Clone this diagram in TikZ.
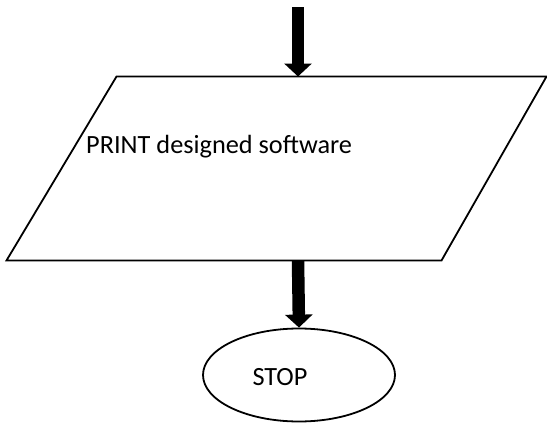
\documentclass[tikz,border=0pt]{standalone}
\usepackage{fontspec}
\setmainfont{Carlito}
\usetikzlibrary{arrows.meta,shapes.geometric}
\begin{document}
\begin{tikzpicture}[x=1pt,y=-1pt,
  shapeline/.style={line width=1.8pt, line join=miter},
  flow/.style={line width=12.5pt, -{Triangle[width=27pt,length=13pt]}},
  lbl/.style={font=\fontsize{26.3}{30}\selectfont, inner sep=0pt}]
\useasboundingbox (0,0) rectangle (547,423);
\coordinate (tl) at (116.5,76.5);
\coordinate (tr) at (546.5,76.5);
\coordinate (br) at (441.5,260.5);
\coordinate (bl) at (6.5,260.5);
\draw[shapeline] (tl) -- (tr) -- (br) -- (bl) -- cycle;
\coordinate (in) at (298,7);
\coordinate (ptop) at (298,76.5);
\coordinate (pbot) at (298,260.5);
\node[lbl, anchor=base west] (print) at (86,153.5) {PRINT designed software};
\node[draw, ellipse, line width=1.8pt, minimum width=192pt, minimum height=93pt, inner sep=0pt] (stop) at (299,375) {};
\node[lbl, anchor=base] (stoptext) at (280,385) {STOP};
\draw[flow] (in) -- (ptop);
\draw[flow] (pbot) -- (stop.north);
\end{tikzpicture}
\end{document}
